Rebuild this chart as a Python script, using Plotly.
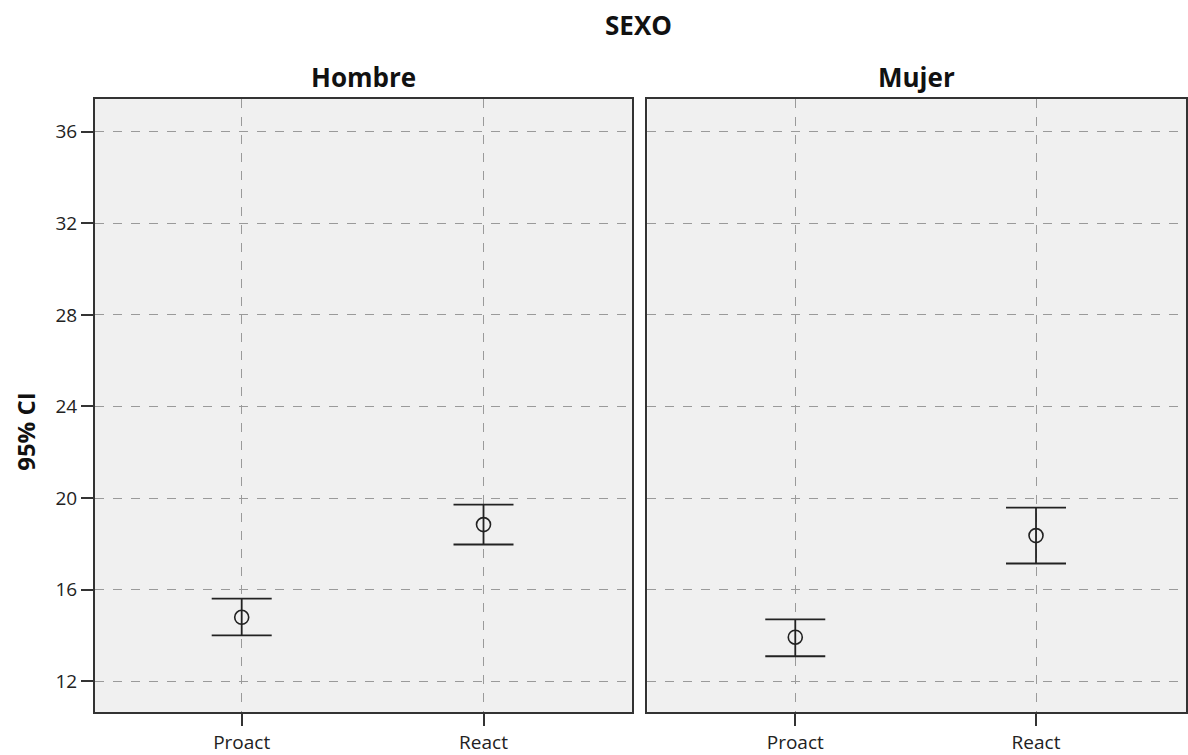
import plotly.graph_objects as go

categories = ["Proact", "React"]
panels = ["Hombre", "Mujer"]
hombre_mean = [14.79, 18.84]
hombre_upper = [15.61, 19.71]
hombre_lower = [14.00, 17.97]
mujer_mean = [13.92, 18.36]
mujer_upper = [14.70, 19.58]
mujer_lower = [13.09, 17.14]
y_ticks = [12, 16, 20, 24, 28, 32, 36]

FONT = "Open Sans"
fig = go.Figure()

def add_panel(means, uppers, lowers, xa, ya):
    xs = list(range(len(categories)))
    fig.add_trace(go.Scatter(
        x=xs, y=means, mode="markers", xaxis=xa, yaxis=ya,
        marker=dict(symbol="circle-open", size=14, color="#222222", line=dict(width=1.6)),
        error_y=dict(type="data", symmetric=False,
                     array=[u - m for u, m in zip(uppers, means)],
                     arrayminus=[m - l for m, l in zip(means, lowers)],
                     color="#222222", thickness=1.8, width=30),
        showlegend=False, hoverinfo="skip"))

add_panel(hombre_mean, hombre_upper, hombre_lower, "x", "y")
add_panel(mujer_mean, mujer_upper, mujer_lower, "x2", "y2")

W, H = 1188, 755
ydom = [1 - 714 / H, 1 - 99 / H]
yrange = [10.65, 37.44]
common_x = dict(tickmode="array", tickvals=[0, 1], ticktext=categories,
                showgrid=True, gridcolor="#9a9a9a", griddash="dash", gridwidth=1,
                showline=True, linecolor="#333333", linewidth=2, mirror=True,
                ticks="outside", ticklen=12, tickcolor="#333333", tickwidth=2,
                tickfont=dict(family=FONT, size=19, color="#222222"),
                zeroline=False, fixedrange=True)
common_y = dict(range=yrange, domain=ydom, tickmode="array", tickvals=y_ticks,
                showgrid=True, gridcolor="#9a9a9a", griddash="dash", gridwidth=1,
                showline=True, linecolor="#333333", linewidth=2, mirror=True,
                zeroline=False)

fig.update_layout(
    width=W, height=H, margin=dict(l=0, r=0, t=0, b=0),
    paper_bgcolor="white", plot_bgcolor="#f0f0f0",
    xaxis=dict(domain=[95 / W, 633 / W], range=[-0.607, 1.616], anchor="y", **common_x),
    xaxis2=dict(domain=[648 / W, 1187 / W], range=[-0.614, 1.623], anchor="y2", **common_x),
    yaxis=dict(anchor="x", ticks="outside", ticklen=12, tickcolor="#333333", tickwidth=2,
               tickfont=dict(family=FONT, size=19, color="#222222"),
               **common_y),
    yaxis2=dict(anchor="x2", showticklabels=False, ticks="", **common_y),
    annotations=[
        dict(text="<b>SEXO</b>", x=639 / W, y=1 - 25 / H, xref="paper", yref="paper",
             showarrow=False, xanchor="center", yanchor="middle",
             font=dict(family=FONT, size=26, color="#111111")),
        dict(text="<b>Hombre</b>", x=(95 + 633) / 2 / W, y=1 - 77 / H, xref="paper", yref="paper",
             showarrow=False, xanchor="center", yanchor="middle",
             font=dict(family=FONT, size=26, color="#111111")),
        dict(text="<b>Mujer</b>", x=(648 + 1187) / 2 / W, y=1 - 77 / H, xref="paper", yref="paper",
             showarrow=False, xanchor="center", yanchor="middle",
             font=dict(family=FONT, size=26, color="#111111")),
        dict(text="<b>95% CI</b>", x=26 / W, y=1 - 432 / H, xref="paper", yref="paper",
             showarrow=False, xanchor="center", yanchor="middle", textangle=-90,
             font=dict(family=FONT, size=24, color="#111111")),
    ],
)

fig.write_html("out.html")
